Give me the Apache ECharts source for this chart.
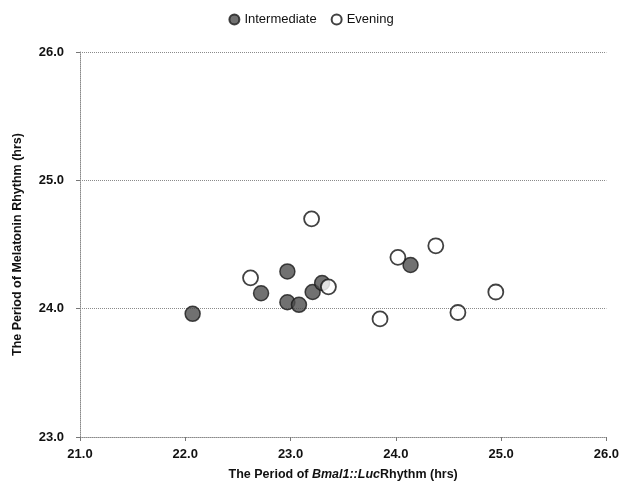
<!DOCTYPE html>
<html>
<head>
<meta charset="utf-8">
<script src="https://cdn.jsdelivr.net/npm/echarts@6/dist/echarts.min.js"></script>
<style>
  html, body { margin: 0; padding: 0; background: #fff; }
  #chart { width: 622px; height: 486px; }
</style>
</head>
<body>
<div id="chart"></div>
<script>
// period pairs [Bmal1::Luc, melatonin]
const intermediate = [
  [22.07, 23.96],
  [22.72, 24.12],
  [22.97, 24.29],
  [22.97, 24.05],
  [23.08, 24.03],
  [23.21, 24.13],
  [23.30, 24.20],
  [24.14, 24.34]
];
const evening = [
  [22.62, 24.24],
  [23.20, 24.70],
  [23.36, 24.17],
  [23.85, 23.92],
  [24.02, 24.40],
  [24.38, 24.49],
  [24.59, 23.97],
  [24.95, 24.13]
];
const xTicks = [21, 26, 1];
const yTicks = [23, 26, 1];

const chart = echarts.init(document.getElementById("chart"));
const font = "'Liberation Sans', Arial, sans-serif";
const dotted = { color: "#8a8a8a", type: "dotted", width: 1 };

chart.setOption({
  animation: false,
  textStyle: { fontFamily: font },
  legend: {
    top: 8,
    left: "center",
    itemWidth: 10,
    itemHeight: 10,
    itemGap: 14,
    textStyle: { fontSize: 13, color: "#111", fontFamily: font },
    data: ["Intermediate", "Evening"]
  },
  grid: { left: 80, right: 14, top: 52, bottom: 48 },
  xAxis: {
    type: "value",
    min: xTicks[0],
    max: xTicks[1],
    interval: xTicks[2],
    axisLine: { lineStyle: dotted },
    axisTick: { show: true, length: 4, lineStyle: { color: "#777" } },
    splitLine: { show: false },
    axisLabel: {
      color: "#111",
      fontSize: 13,
      fontWeight: "bold",
      margin: 11,
      formatter: (v) => v.toFixed(1)
    },
    name: "{a|The Period of }{b|Bmal1::Luc}{a|Rhythm (hrs)}",
    nameLocation: "middle",
    nameGap: 31,
    nameTextStyle: {
      rich: {
        a: { fontSize: 12.5, fontWeight: "bold", color: "#111", fontFamily: font },
        b: { fontSize: 12.5, fontWeight: "bold", fontStyle: "italic", color: "#111", fontFamily: font }
      }
    }
  },
  yAxis: {
    type: "value",
    min: yTicks[0],
    max: yTicks[1],
    interval: yTicks[2],
    axisLine: { show: true, lineStyle: dotted },
    axisTick: { show: true, length: 4, lineStyle: { color: "#777" } },
    splitLine: { show: true, lineStyle: dotted },
    axisLabel: {
      color: "#111",
      fontSize: 13,
      fontWeight: "bold",
      margin: 16,
      formatter: (v) => v.toFixed(1)
    },
    name: "The Period of Melatonin Rhythm (hrs)",
    nameLocation: "middle",
    nameGap: 56,
    nameTextStyle: { fontSize: 12.5, fontWeight: "bold", color: "#111", fontFamily: font }
  },
  series: [
    {
      name: "Intermediate",
      type: "scatter",
      symbol: "circle",
      symbolSize: 15,
      itemStyle: { color: "#4e4e4e", borderColor: "#1a1a1a", borderWidth: 1.5 },
      data: intermediate
    },
    {
      name: "Evening",
      type: "scatter",
      symbol: "circle",
      symbolSize: 15,
      itemStyle: { color: "#fff", borderColor: "#111", borderWidth: 1.8 },
      data: evening
    }
  ]
});
</script>
</body>
</html>
